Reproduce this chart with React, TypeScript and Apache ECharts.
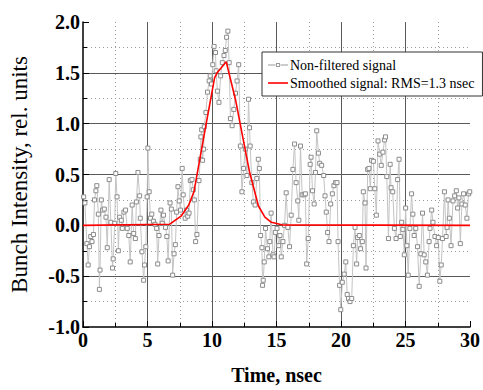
import React, { useEffect, useRef } from "react";
import * as echarts from "echarts";

// Non-filtered signal: sample times (nsec) and values (rel. units)
const noisyTime: number[] = [
  0.05, 0.15, 0.3, 0.4, 0.5, 0.6, 0.7, 0.81, 0.89, 1.0, 1.07, 1.19, 1.27, 1.32, 1.42, 1.52, 1.65, 1.78, 1.88,
  2.03, 2.16, 2.29, 2.34, 2.46, 2.54, 2.64, 2.74, 2.84, 2.97, 3.05, 3.17, 3.3, 3.43, 3.55, 3.66, 3.81, 3.93,
  4.06, 4.14, 4.26, 4.39, 4.44, 4.57, 4.7, 4.77, 4.87, 4.97, 5.03, 5.13, 5.23, 5.33, 5.46, 5.58, 5.71, 5.79,
  5.89, 6.04, 6.14, 6.24, 6.4, 6.5, 6.6, 6.75, 6.85, 6.95, 7.06, 7.16, 7.26, 7.36, 7.46, 7.56, 7.69, 7.77,
  7.92, 8.02, 8.12, 8.22, 8.32, 8.45, 8.55, 8.63, 8.73, 8.83, 8.99, 9.09, 9.14, 9.2, 9.27, 9.35, 9.4, 9.53,
  9.65, 9.78, 9.86, 9.96, 10.06, 10.16, 10.27, 10.32, 10.42, 10.54, 10.67, 10.8, 10.93, 11.03, 11.13, 11.23,
  11.33, 11.43, 11.56, 11.69, 11.82, 11.94, 12.07, 12.2, 12.32, 12.45, 12.58, 12.71, 12.83, 12.91, 12.96,
  13.09, 13.21, 13.34, 13.47, 13.59, 13.67, 13.77, 13.87, 13.92, 13.97, 14.05, 14.15, 14.3, 14.41, 14.48,
  14.58, 14.73, 14.81, 14.91, 15.04, 15.17, 15.27, 15.37, 15.5, 15.62, 15.75, 15.88, 16.01, 16.14, 16.27,
  16.4, 16.52, 16.65, 16.73, 16.86, 16.99, 17.14, 17.24, 17.34, 17.46, 17.61, 17.68, 17.79, 17.92, 18.02,
  18.12, 18.25, 18.35, 18.5, 18.66, 18.76, 18.86, 18.96, 19.07, 19.2, 19.33, 19.45, 19.58, 19.69, 19.77,
  19.89, 19.98, 20.1, 20.25, 20.37, 20.48, 20.58, 20.7, 20.83, 20.96, 21.09, 21.21, 21.29, 21.42, 21.52,
  21.65, 21.73, 21.86, 21.94, 22.07, 22.17, 22.27, 22.37, 22.51, 22.62, 22.74, 22.87, 23.0, 23.12, 23.25,
  23.38, 23.45, 23.55, 23.68, 23.81, 23.88, 24.01, 24.14, 24.27, 24.39, 24.5, 24.6, 24.7, 24.8, 24.91,
  25.01, 25.11, 25.21, 25.34, 25.47, 25.57, 25.67, 25.8, 25.93, 26.06, 26.19, 26.32, 26.45, 26.57, 26.7,
  26.83, 26.9, 27.03, 27.13, 27.28, 27.41, 27.54, 27.66, 27.77, 27.87, 28.02, 28.15, 28.22, 28.3, 28.4,
  28.53, 28.68, 28.81, 28.94, 29.04, 29.14, 29.25, 29.37, 29.5, 29.63, 29.76, 29.89, 29.98,
];
const noisyValue: number[] = [
  0.28, 0.22, -0.18, -0.39, -0.21, -0.11, -0.16, -0.09, 0.25, 0.34, 0.39, 0.11, -0.63, -0.44, 0.25, 0.15, 0.16, 0.08, -0.22,
  0.45, 0.03, -0.42, -0.33, 0.02, 0.51, 0.28, -0.25, 0.08, 0.05, -0.03, 0.13, 0.15, -0.03, -0.1, -0.36, 0.2, -0.08,
  -0.13, 0.23, 0.52, 0.29, 0.07, -0.26, -0.54, -0.39, -0.21, 0.28, 0.76, 0.33, 0.07, 0.11, 0.04, 0.01, -0.03, -0.38,
  -0.1, 0.15, 0.02, 0.1, -0.02, -0.11, -0.35, 0.22, 0.16, -0.49, -0.28, -0.19, 0.13, 0.38, 0.24, 0.15, 0.56, 0.3,
  0.07, 0.15, 0.09, 0.12, 0.44, 0.45, 0.35, 0.25, -0.16, -0.09, 0.44, 0.65, 0.87, 0.94, 0.64, 0.75, 0.97, 1.11,
  1.31, 1.42, 1.47, 1.39, 1.58, 1.76, 1.7, 1.52, 1.32, 1.21, 1.47, 1.6, 1.67, 1.72, 1.85, 1.91,
  1.6, 1.05, 0.98, 1.14, 1.3, 1.42, 1.58, 0.78, 0.33, 0.56, 0.75, 0.49, 1.24, 0.96, 0.78,
  0.42, 0.23, 0.2, 0.46, 0.65, 0.56, -0.1, -0.22, -0.59, -0.54, -0.36, -0.03, -0.23, -0.31, -0.16,
  0.12, -0.29, -0.31, -0.07, -0.03, -0.2, -0.1, -0.31, -0.16, 0.0, 0.32, -0.02, -0.21, 0.1, 0.55,
  0.8, 0.42, 0.24, 0.05, 0.78, 0.3, 0.3, 0.31, -0.38, -0.13, 0.6, 0.67, 0.34, 0.21, 0.52,
  0.93, 0.71, 0.61, 0.59, 0.49, 0.29, 0.13, -0.07, -0.16, 0.21, 0.31, 0.39, 0.42, 0.42, -0.16,
  -0.59, -0.83, -0.56, -0.48, -0.36, -0.68, -0.72, -0.75, -0.72, -0.2, -0.02, -0.38, -0.12, -0.1, -0.23,
  -0.16, 0.33, 0.22, -0.42, 0.55, 0.56, 0.36, 0.64, 0.63, 0.36, 0.1, 0.83, 0.7, 0.59, 0.72,
  0.84, 0.87, 0.48, -0.13, 0.6, 0.37, 0.33, -0.03, -0.13, 0.45, 0.65, -0.11, 0.03, -0.04, -0.29,
  0.17, -0.2, -0.49, -0.03, 0.31, 0.11, -0.1, -0.03, -0.21, -0.6, -0.28, 0.12, -0.29, -0.36, -0.49,
  -0.16, -0.03, 0.15, 0.03, -0.11, -0.2, -0.12, -0.55, -0.39, -0.13, 0.33, -0.11, -0.02, 0.25, 0.07,
  -0.2, 0.24, 0.29, 0.34, 0.17, 0.27, -0.18, 0.21, 0.31, 0.2, 0.07, 0.31, 0.33,
];

// Smoothed signal (RMS = 1.3 nsec)
const smoothTime: number[] = [0, 6.7, 7.6, 8.2, 8.6, 9.55, 10.2, 10.4, 11.1, 11.85, 12.35, 12.9, 13.6, 14.1, 14.6, 15.4, 30];
const smoothValue: number[] = [0, 0.01, 0.09, 0.2, 0.33, 1.0, 1.45, 1.5, 1.61, 1.22, 0.89, 0.53, 0.19, 0.08, 0.03, 0.005, 0];

const seriesNames = ["Non-filtered signal", "Smoothed signal: RMS=1.3 nsec"];
const xTitle = "Time, nsec";
const yTitle = "Bunch Intensity, rel. units";

const SERIF = "'Liberation Serif', 'Times New Roman', serif";

// legend glyphs: short line with a hollow square, and a plain line
const ICON_NOISY =
  "path://M0,2 H7.6 V2.8 H0 Z M12.4,2 H20 V2.8 H12.4 Z M8,0.4 H12 V4.4 H8 Z M8.9,1.3 V3.5 H11.1 V1.3 Z";
const ICON_SMOOTH = "path://M0,0 H20 V1.6 H0 Z";

export default function App() {
  const ref = useRef<HTMLDivElement>(null);
  useEffect(() => {
    if (!ref.current) return;
    const chart = echarts.init(ref.current, null, { renderer: "svg" });
    const noisy = noisyTime.map((t, i) => [t, noisyValue[i]]);
    const smooth = smoothTime.map((t, i) => [t, smoothValue[i]]);
    const axisCommon = {
      axisLine: { show: true, onZero: false, lineStyle: { color: "#000", width: 1.5 } },
      axisTick: { show: true, inside: true, length: 6, lineStyle: { color: "#000", width: 1 } },
      minorTick: { show: true, splitNumber: 2, length: 4, lineStyle: { color: "#000", width: 1 } },
      splitLine: { show: true, showMinLine: false, showMaxLine: false, lineStyle: { color: "#5a5a5a", width: 1 } },
      minorSplitLine: { show: true, lineStyle: { color: "#9a9a9a", width: 1, type: [1, 3] } },
      axisLabel: { fontFamily: SERIF, fontWeight: "bold", fontSize: 20, color: "#000" },
    };
    chart.setOption({
      animation: false,
      backgroundColor: "#fff",
      grid: { left: 80, right: 9, top: 22, bottom: 61, containLabel: false },
      legend: {
        show: true,
        orient: "vertical",
        left: 262,
        top: 52,
        padding: [6, 8, 6, 6],
        itemGap: 4,
        itemWidth: 20,
        itemHeight: 14,
        symbolKeepAspect: true,
        backgroundColor: "#fff",
        borderColor: "#333",
        borderWidth: 1,
        textStyle: { fontFamily: SERIF, fontSize: 14, color: "#000", padding: [0, 0, 0, -3] },
        data: [
          { name: seriesNames[0], icon: ICON_NOISY, itemStyle: { color: "#9a9a9a", borderWidth: 0 } },
          { name: seriesNames[1], icon: ICON_SMOOTH, itemStyle: { color: "#ff0000", borderWidth: 0 } },
        ],
      },
      xAxis: {
        type: "value",
        min: 0,
        max: 30,
        interval: 5,
        name: xTitle,
        nameLocation: "middle",
        nameGap: 38,
        nameTextStyle: { fontFamily: SERIF, fontWeight: "bold", fontSize: 20, color: "#000" },
        ...axisCommon,
        axisLabel: { ...axisCommon.axisLabel, margin: 3 },
      },
      yAxis: {
        type: "value",
        min: -1,
        max: 2,
        interval: 0.5,
        name: yTitle,
        nameLocation: "middle",
        nameGap: 52,
        nameTextStyle: { fontFamily: SERIF, fontSize: 23, color: "#000" },
        ...axisCommon,
        axisLabel: { ...axisCommon.axisLabel, margin: 3, formatter: (v: number) => v.toFixed(1) },
      },
      series: [
        {
          name: seriesNames[0],
          type: "line",
          data: noisy,
          symbol: "rect",
          symbolSize: 4,
          showAllSymbol: true,
          lineStyle: { color: "#c4c4c4", width: 1 },
          itemStyle: { color: "#fff", borderColor: "#8c8c8c", borderWidth: 1 },
          z: 3,
        },
        {
          name: seriesNames[1],
          type: "line",
          data: smooth,
          symbol: "none",
          lineStyle: { color: "#ff0000", width: 1.6 },
          itemStyle: { color: "#ff0000" },
          z: 4,
        },
      ],
    });
    return () => chart.dispose();
  }, []);
  return <div ref={ref} style={{ position: "fixed", left: 0, top: 0, width: 483, height: 390 }} />;
}
